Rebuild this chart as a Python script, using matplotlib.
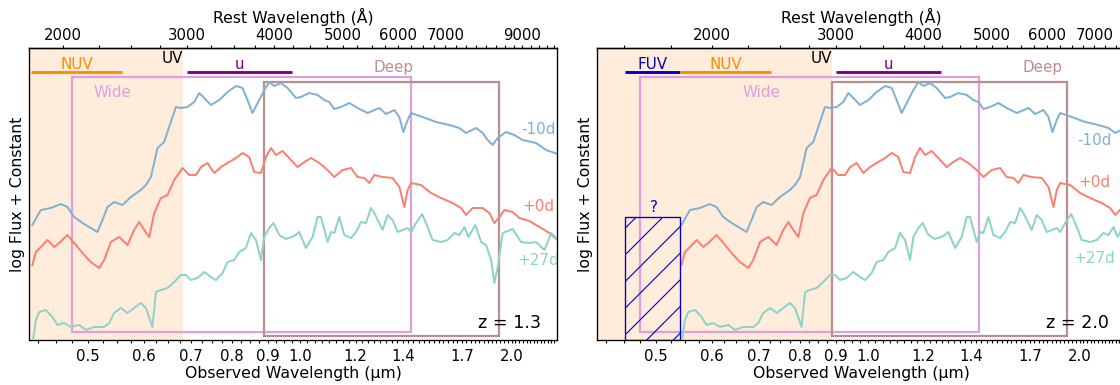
import matplotlib.pyplot as plt
import numpy as np
from matplotlib.patches import Rectangle
from matplotlib.ticker import FixedLocator, MultipleLocator, NullFormatter, FuncFormatter

# rest-frame spectra: wavelength (Angstrom) and log flux + constant
wave_m10 = [1811, 1862, 1924, 1988, 2031, 2077, 2134, 2193, 2241, 2278, 2316, 2367, 2432,
            2500, 2583, 2626, 2670, 2728, 2788, 2834, 2897, 2945, 3010, 3076, 3127, 3179,
            3249, 3339, 3431, 3527, 3604, 3663, 3723, 3806, 3869, 3933, 3998, 4086, 4176,
            4292, 4363, 4483, 4607, 4709, 4787, 4866, 4974, 5111, 5252, 5427, 5639, 5764,
            5923, 6021, 6100, 6187, 6256, 6498, 6790, 7092, 7328, 7491, 7740, 7909, 8040,
            8173, 8308, 8539, 8775, 9016, 9421, 9735, 10112]
flux_m10 = [1.15, 1.30, 1.32, 1.36, 1.33, 1.23, 1.17, 1.12, 1.08, 1.20, 1.33, 1.38, 1.35,
            1.43, 1.50, 1.55, 1.63, 1.92, 1.98, 2.13, 2.33, 2.32, 2.33, 2.38, 2.47, 2.42,
            2.35, 2.40, 2.48, 2.54, 2.52, 2.40, 2.27, 2.40, 2.50, 2.58, 2.54, 2.57, 2.52,
            2.42, 2.43, 2.47, 2.45, 2.40, 2.38, 2.31, 2.33, 2.37, 2.32, 2.27, 2.32, 2.26,
            2.30, 2.23, 2.08, 2.20, 2.27, 2.23, 2.18, 2.15, 2.12, 2.07, 2.12, 2.07, 2.00,
            1.95, 2.02, 2.08, 2.05, 2.00, 1.97, 1.90, 1.86]

wave_p0 = [1811, 1832, 1862, 1903, 1945, 1977, 2031, 2077, 2134, 2193, 2254, 2291, 2342,
           2406, 2473, 2527, 2569, 2612, 2655, 2699, 2758, 2819, 2881, 2961, 3026, 3093,
           3145, 3213, 3285, 3357, 3431, 3527, 3604, 3683, 3744, 3827, 3891, 3955, 4020,
           4108, 4223, 4315, 4411, 4509, 4633, 4760, 4866, 5000, 5140, 5252, 5368, 5457,
           5547, 5700, 5890, 6021, 6120, 6187, 6256, 6464, 6679, 6902, 7168, 7369, 7491,
           7654, 7909, 8085, 8218, 8354, 8492, 8726, 8920, 9217, 9524, 9841, 10112]
flux_p0 = [0.75, 0.88, 0.93, 1.00, 0.93, 0.97, 1.05, 0.97, 0.87, 0.78, 0.72, 0.80, 0.98,
           1.03, 0.95, 1.10, 1.18, 1.10, 1.03, 1.27, 1.42, 1.45, 1.60, 1.72, 1.65, 1.65,
           1.73, 1.77, 1.67, 1.73, 1.77, 1.82, 1.87, 1.83, 1.68, 1.67, 1.83, 1.92, 1.85,
           1.89, 1.80, 1.73, 1.78, 1.82, 1.77, 1.70, 1.63, 1.70, 1.72, 1.63, 1.62, 1.57,
           1.65, 1.63, 1.62, 1.53, 1.33, 1.50, 1.57, 1.55, 1.47, 1.42, 1.37, 1.32, 1.25,
           1.32, 1.32, 1.27, 1.17, 1.23, 1.30, 1.28, 1.22, 1.19, 1.13, 1.07, 1.00]

wave_p27 = [1817, 1832, 1852, 1893, 1934, 1966, 2010, 2054, 2111, 2158, 2217, 2291, 2329,
            2367, 2420, 2473, 2527, 2583, 2626, 2683, 2714, 2758, 2819, 2881, 2945, 2994,
            3043, 3110, 3179, 3249, 3303, 3375, 3431, 3507, 3565, 3644, 3704, 3765, 3827,
            3869, 3933, 3989, 4064, 4154, 4268, 4339, 4435, 4532, 4607, 4658, 4760, 4814,
            4866, 4946, 5028, 5140, 5224, 5311, 5398, 5488, 5547, 5700, 5794, 5890, 5987,
            6086, 6187, 6256, 6359, 6485, 6605, 6714, 6902, 7053, 7209, 7328, 7449, 7547,
            7722, 7869, 7998, 8130, 8218, 8308, 8446, 8726, 8970, 9217, 9421, 9681, 9896,
            10130]
flux_p27 = [0.02, 0.20, 0.28, 0.30, 0.23, 0.15, 0.17, 0.13, 0.15, 0.10, 0.13, 0.13, 0.17,
            0.27, 0.32, 0.27, 0.32, 0.37, 0.32, 0.13, 0.48, 0.50, 0.52, 0.58, 0.65, 0.65,
            0.60, 0.62, 0.68, 0.63, 0.60, 0.67, 0.78, 0.80, 0.88, 0.92, 1.07, 1.00, 0.80,
            1.03, 1.12, 1.17, 1.05, 1.01, 1.04, 1.08, 0.92, 1.03, 1.23, 1.23, 0.98, 1.08,
            1.07, 1.23, 1.05, 1.02, 1.08, 1.18, 1.17, 1.32, 1.27, 1.10, 1.25, 1.20, 1.08,
            1.10, 1.12, 1.08, 1.17, 1.26, 1.13, 1.00, 0.98, 1.00, 1.07, 1.05, 1.13, 1.03,
            1.15, 0.98, 0.95, 0.80, 0.57, 0.73, 1.07, 1.11, 0.98, 0.97, 0.98, 0.90, 1.07,
            1.00]

epochs = ['-10d', '+0d', '+27d']
spectra = [(wave_m10, flux_m10), (wave_p0, flux_p0), (wave_p27, flux_p27)]
colors = ['#80b1d3', '#fb8072', '#8dd3c7']
redshifts = [1.3, 2.0]

# rest-frame UV coverage (Angstrom)
uv_edge = 2965
fuv_band = [1505, 1805]
nuv_band = [1805, 2425]
u_band = [3005, 4240]
# observed-frame survey coverage (micron)
wide_band = [0.475, 1.44]
deep_band = [0.89, 1.92]

obs_ticks = [0.5, 0.6, 0.7, 0.8, 0.9, 1.0, 1.2, 1.4, 1.7, 2.0]
rest_ticks = [2000, 3000, 4000, 5000, 6000, 7000, 9000]

XMIN, XMAX = 0.412, 2.32

plt.rcParams['hatch.linewidth'] = 0.5

# where the epoch labels sit in each panel (observed micron, flux)
label_x = {1.3: 2.18, 2.0: 2.10}
label_y = {1.3: [2.11, 1.34, 0.79], 2.0: [2.00, 1.575, 0.815]}


def to_obs(w, z):
    return np.asarray(w, dtype=float) * (1 + z) / 1e4


def draw_panel(ax, z):
    ax.set_xscale('log')
    ax.set_xlim(XMIN, XMAX)
    ax.set_ylim(0, 2.92)

    ax.axvspan(XMIN, to_obs(uv_edge, z), color='peachpuff', alpha=0.5, lw=0, zorder=0)
    ax.text(to_obs(uv_edge, z), 2.767, 'UV', ha='right', va='baseline', fontsize=6.8)

    # survey footprints
    ax.add_patch(Rectangle((wide_band[0], 0.083), wide_band[1] - wide_band[0], 2.55,
                           fill=False, ec='plum', lw=1.0, zorder=1))
    ax.add_patch(Rectangle((deep_band[0], 0.04), deep_band[1] - deep_band[0], 2.543,
                           fill=False, ec='rosybrown', lw=1.0, zorder=1))
    ax.text(to_obs(2350, z), 2.433, 'Wide', color='plum', ha='center', va='baseline',
            fontsize=6.8)
    ax.text(to_obs(5900, z), 2.683, 'Deep', color='rosybrown', ha='center', va='baseline',
            fontsize=6.8)

    for (w, f), col, lab, ly in zip(spectra, colors, epochs, label_y[z]):
        ax.plot(to_obs(w, z), f, color=col, lw=0.9, zorder=2)
        ax.text(label_x[z], ly, lab, color=col, ha='center', va='center',
                fontsize=6.8, clip_on=True)

    # UV filters, only those that fall inside the observed window
    for band, name, col in [(fuv_band, 'FUV', 'mediumblue'),
                            (nuv_band, 'NUV', 'darkorange'),
                            (u_band, 'u', 'purple')]:
        xs = to_obs(band, z)
        if xs[0] < XMIN * 0.98:
            continue
        ax.plot(xs, [2.68, 2.68], color=col, lw=1.3, solid_capstyle='butt', zorder=3)
        ax.text(np.sqrt(xs[0] * xs[1]), 2.71, name, color=col, ha='center',
                va='baseline', fontsize=6.8)

    # no FUV coverage from the ground
    fx = to_obs(fuv_band, z)
    if fx[0] >= XMIN * 0.98:
        ax.add_patch(Rectangle((fx[0], 0), fx[1] - fx[0], 1.23, fill=False,
                               ec='mediumblue', hatch='//', lw=0.6, zorder=3))
        ax.text(np.sqrt(fx[0] * fx[1]) * 1.005, 1.283, '?', color='mediumblue',
                ha='center', va='baseline', fontsize=6.8)

    ax.text(0.970, 0.042, f'z = {z:.1f}', transform=ax.transAxes, ha='right',
            va='baseline', fontsize=7.9)

    ax.xaxis.set_major_locator(FixedLocator(obs_ticks))
    ax.xaxis.set_major_formatter(FuncFormatter(lambda v, p: f'{v:.1f}'))
    ax.xaxis.set_minor_locator(MultipleLocator(0.025))
    ax.xaxis.set_minor_formatter(NullFormatter())
    ax.tick_params(axis='x', which='both', direction='out', length=1.5, width=0.5,
                   labelsize=6.7, pad=2.5)
    ax.tick_params(axis='y', left=False, labelleft=False)
    ax.set_xlabel('Observed Wavelength (µm)', fontsize=7.1, labelpad=1.0)
    ax.set_ylabel('log Flux + Constant', fontsize=7.1, labelpad=2.0)
    for sp in ax.spines.values():
        sp.set_linewidth(0.6)

    top = ax.secondary_xaxis('top', functions=(lambda x: x * 1e4 / (1 + z),
                                               lambda r: r * (1 + z) / 1e4))
    top.xaxis.set_major_locator(FixedLocator(rest_ticks))
    top.xaxis.set_major_formatter(FuncFormatter(lambda v, p: f'{v:.0f}'))
    top.xaxis.set_minor_locator(MultipleLocator(250))
    top.xaxis.set_minor_formatter(NullFormatter())
    top.tick_params(which='both', direction='out', length=1.5, width=0.5,
                    labelsize=6.7, pad=0.6)
    top.spines['top'].set_linewidth(0.6)
    top.set_xlabel('Rest Wavelength (Å)', fontsize=7.1, labelpad=2.5)


fig = plt.figure(figsize=(7.0, 2.40625), dpi=160)
axes = [fig.add_axes([0.0259, 0.1169, 0.4714, 0.7584]),
        fig.add_axes([0.5330, 0.1169, 0.4714, 0.7584])]
for ax, z in zip(axes, redshifts):
    draw_panel(ax, z)

fig.savefig('out.png', dpi=160)
